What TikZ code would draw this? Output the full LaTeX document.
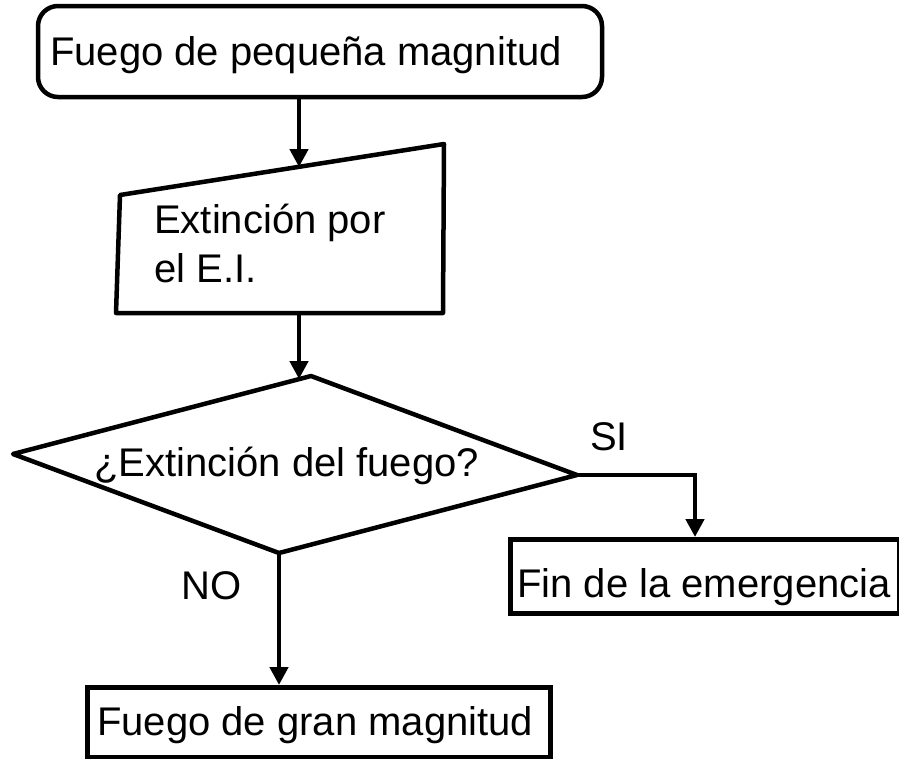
\documentclass[tikz,border=0pt]{standalone}
\usepackage{fontspec}
\setmainfont{Liberation Sans}
\usetikzlibrary{arrows.meta,calc}
\begin{document}
\begin{tikzpicture}[x=1pt,y=-1pt,
  shapeline/.style={line width=4.5pt, line join=round},
  conn/.style={line width=4.5pt, -{Triangle[length=18pt,width=18pt]}},
  lbl/.style={font=\fontsize{40pt}{46pt}\selectfont, inner sep=0pt, anchor=base west},
  boxnode/.style={draw, line width=4.5pt, inner sep=0pt, anchor=north west}]
\useasboundingbox (0,0) rectangle (899,758);
% top rounded box
\node[draw, line width=4.5pt, rounded corners=20pt, inner sep=0pt,
      minimum width=564pt, minimum height=91pt] (top) at (320,51.5) {};
\node[lbl] (toptxt) at (50,65) {Fuego de pequeña magnitud};
% manual input shape
\coordinate (trapin) at (299,167);
\coordinate (trapout) at (299,313);
\draw[shapeline] (116,313) -- (120,195) -- (444,144) -- (443,313) -- cycle;
\node[lbl] (traptxt1) at (154,233) {Extinción por};
\node[lbl] (traptxt2) at (154,282) {el E.I.};
% decision
\coordinate (dl) at (13,454);
\coordinate (dt) at (311,376);
\coordinate (dr) at (577,475);
\coordinate (db) at (279,553);
\coordinate (din) at (299,379);
\draw[shapeline] (dl) -- (dt) -- (dr) -- (db) -- cycle;
\node[lbl] (dtxt) at (94,476) {¿Extinción del fuego?};
% end boxes
\node[boxnode, minimum width=389pt, minimum height=74pt] (fin) at (508,537) {};
\node[lbl] (fintxt) at (517,597) {Fin de la emergencia};
\node[boxnode, minimum width=463pt, minimum height=70pt] (gran) at (85,685) {};
\node[lbl] (grantxt) at (97,735) {Fuego de gran magnitud};
% connectors
\draw[conn] (top.south -| trapin) -- (trapin);
\draw[conn] (trapout) -- (din);
\coordinate (sicorner) at (695,475);
\draw[conn] (dr) -- (sicorner) -- (sicorner |- fin.north);
\draw[conn] (db) -- (db |- gran.north);
% labels
\node[lbl] (si) at (590,450) {SI};
\node[lbl] (no) at (181,599) {NO};
\end{tikzpicture}
\end{document}
